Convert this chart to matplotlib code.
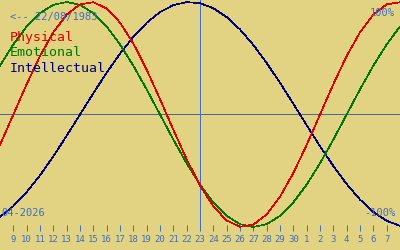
import numpy as np
import matplotlib
matplotlib.use("Agg")
import matplotlib.pyplot as plt

# days relative to the selected date (23/04/2026)
day_offsets = list(range(-15, 16))
tick_offsets = list(range(-14, 15))
tick_labels = [str(d) for d in range(9, 31)] + [str(d) for d in range(1, 8)]

physical = [-0.270, 0.000, 0.270, 0.520, 0.731, 0.888, 0.979, 0.998, 0.942, 0.817,
            0.631, 0.398, 0.136, -0.136, -0.398, -0.631, -0.817, -0.942, -0.998, -0.979,
            -0.888, -0.731, -0.520, -0.270, 0.000, 0.270, 0.520, 0.731, 0.888, 0.979, 0.998]
emotional = [0.434, 0.623, 0.782, 0.901, 0.975, 1.000, 0.975, 0.901, 0.782, 0.623,
             0.434, 0.223, 0.000, -0.223, -0.434, -0.623, -0.782, -0.901, -0.975, -1.000,
             -0.975, -0.901, -0.782, -0.623, -0.434, -0.223, 0.000, 0.223, 0.434, 0.623, 0.782]
intellectual = [-0.910, -0.815, -0.690, -0.541, -0.372, -0.189, 0.000, 0.189, 0.372, 0.541,
                0.690, 0.815, 0.910, 0.972, 0.999, 0.990, 0.945, 0.866, 0.756, 0.618,
                0.458, 0.282, 0.095, -0.095, -0.282, -0.458, -0.618, -0.756, -0.866, -0.945, -0.990]

birth_label = "<-- 22/08/1983"
month_label = "04-2026"

bg = "#E1D381"
blue = "#3C6EC4"
mono = "DejaVu Sans Mono"
lw = 0.7

fig = plt.figure(figsize=(4, 2.5), dpi=100, facecolor=bg)
ax = fig.add_axes([0, 19 / 250, 1, 231 / 250], facecolor=bg)

ax.axhline(0, color="#46689C", lw=lw, antialiased=False)
ax.axvline(0, color=blue, lw=lw, antialiased=False)

ax.plot(day_offsets, intellectual, color="#000080", lw=0.5, antialiased=False)
ax.plot(day_offsets, emotional, color="#007800", lw=0.5, antialiased=False)
ax.plot(day_offsets, physical, color="#E00000", lw=0.5, antialiased=False)

ax.set_xlim(-15, 15)
ax.set_ylim(-1.0356, 1.0178)
for s in ax.spines.values():
    s.set_visible(False)
ax.set_yticks([])
ax.set_xticks(tick_offsets)
ax.set_xticklabels(tick_labels, fontfamily=mono, fontsize=6.5, color=blue)
ax.tick_params(axis="x", direction="in", length=4.3, width=lw, color=blue, pad=3)

def px(x, y):
    return x / 400, 1 - y / 250

fig.text(*px(10, 17), birth_label, family=mono, fontsize=7.5, color=blue, va="center")
fig.text(*px(395, 12.5), "100%", family=mono, fontsize=7.5, color=blue, va="center", ha="right")
fig.text(*px(395, 213), "-100%", family=mono, fontsize=7.5, color=blue, va="center", ha="right")
fig.text(*px(1, 212.5), month_label, family=mono, fontsize=7.5, color=blue, va="center")

fig.text(*px(10, 37), "Physical", family=mono, fontsize=9.5, color="#E00000", va="center")
fig.text(*px(10, 53), "Emotional", family=mono, fontsize=9.5, color="#007800", va="center")
fig.text(*px(10, 68), "Intellectual", family=mono, fontsize=9.5, color="#000080", va="center")

fig.savefig("out.png", dpi=100, facecolor=bg)
